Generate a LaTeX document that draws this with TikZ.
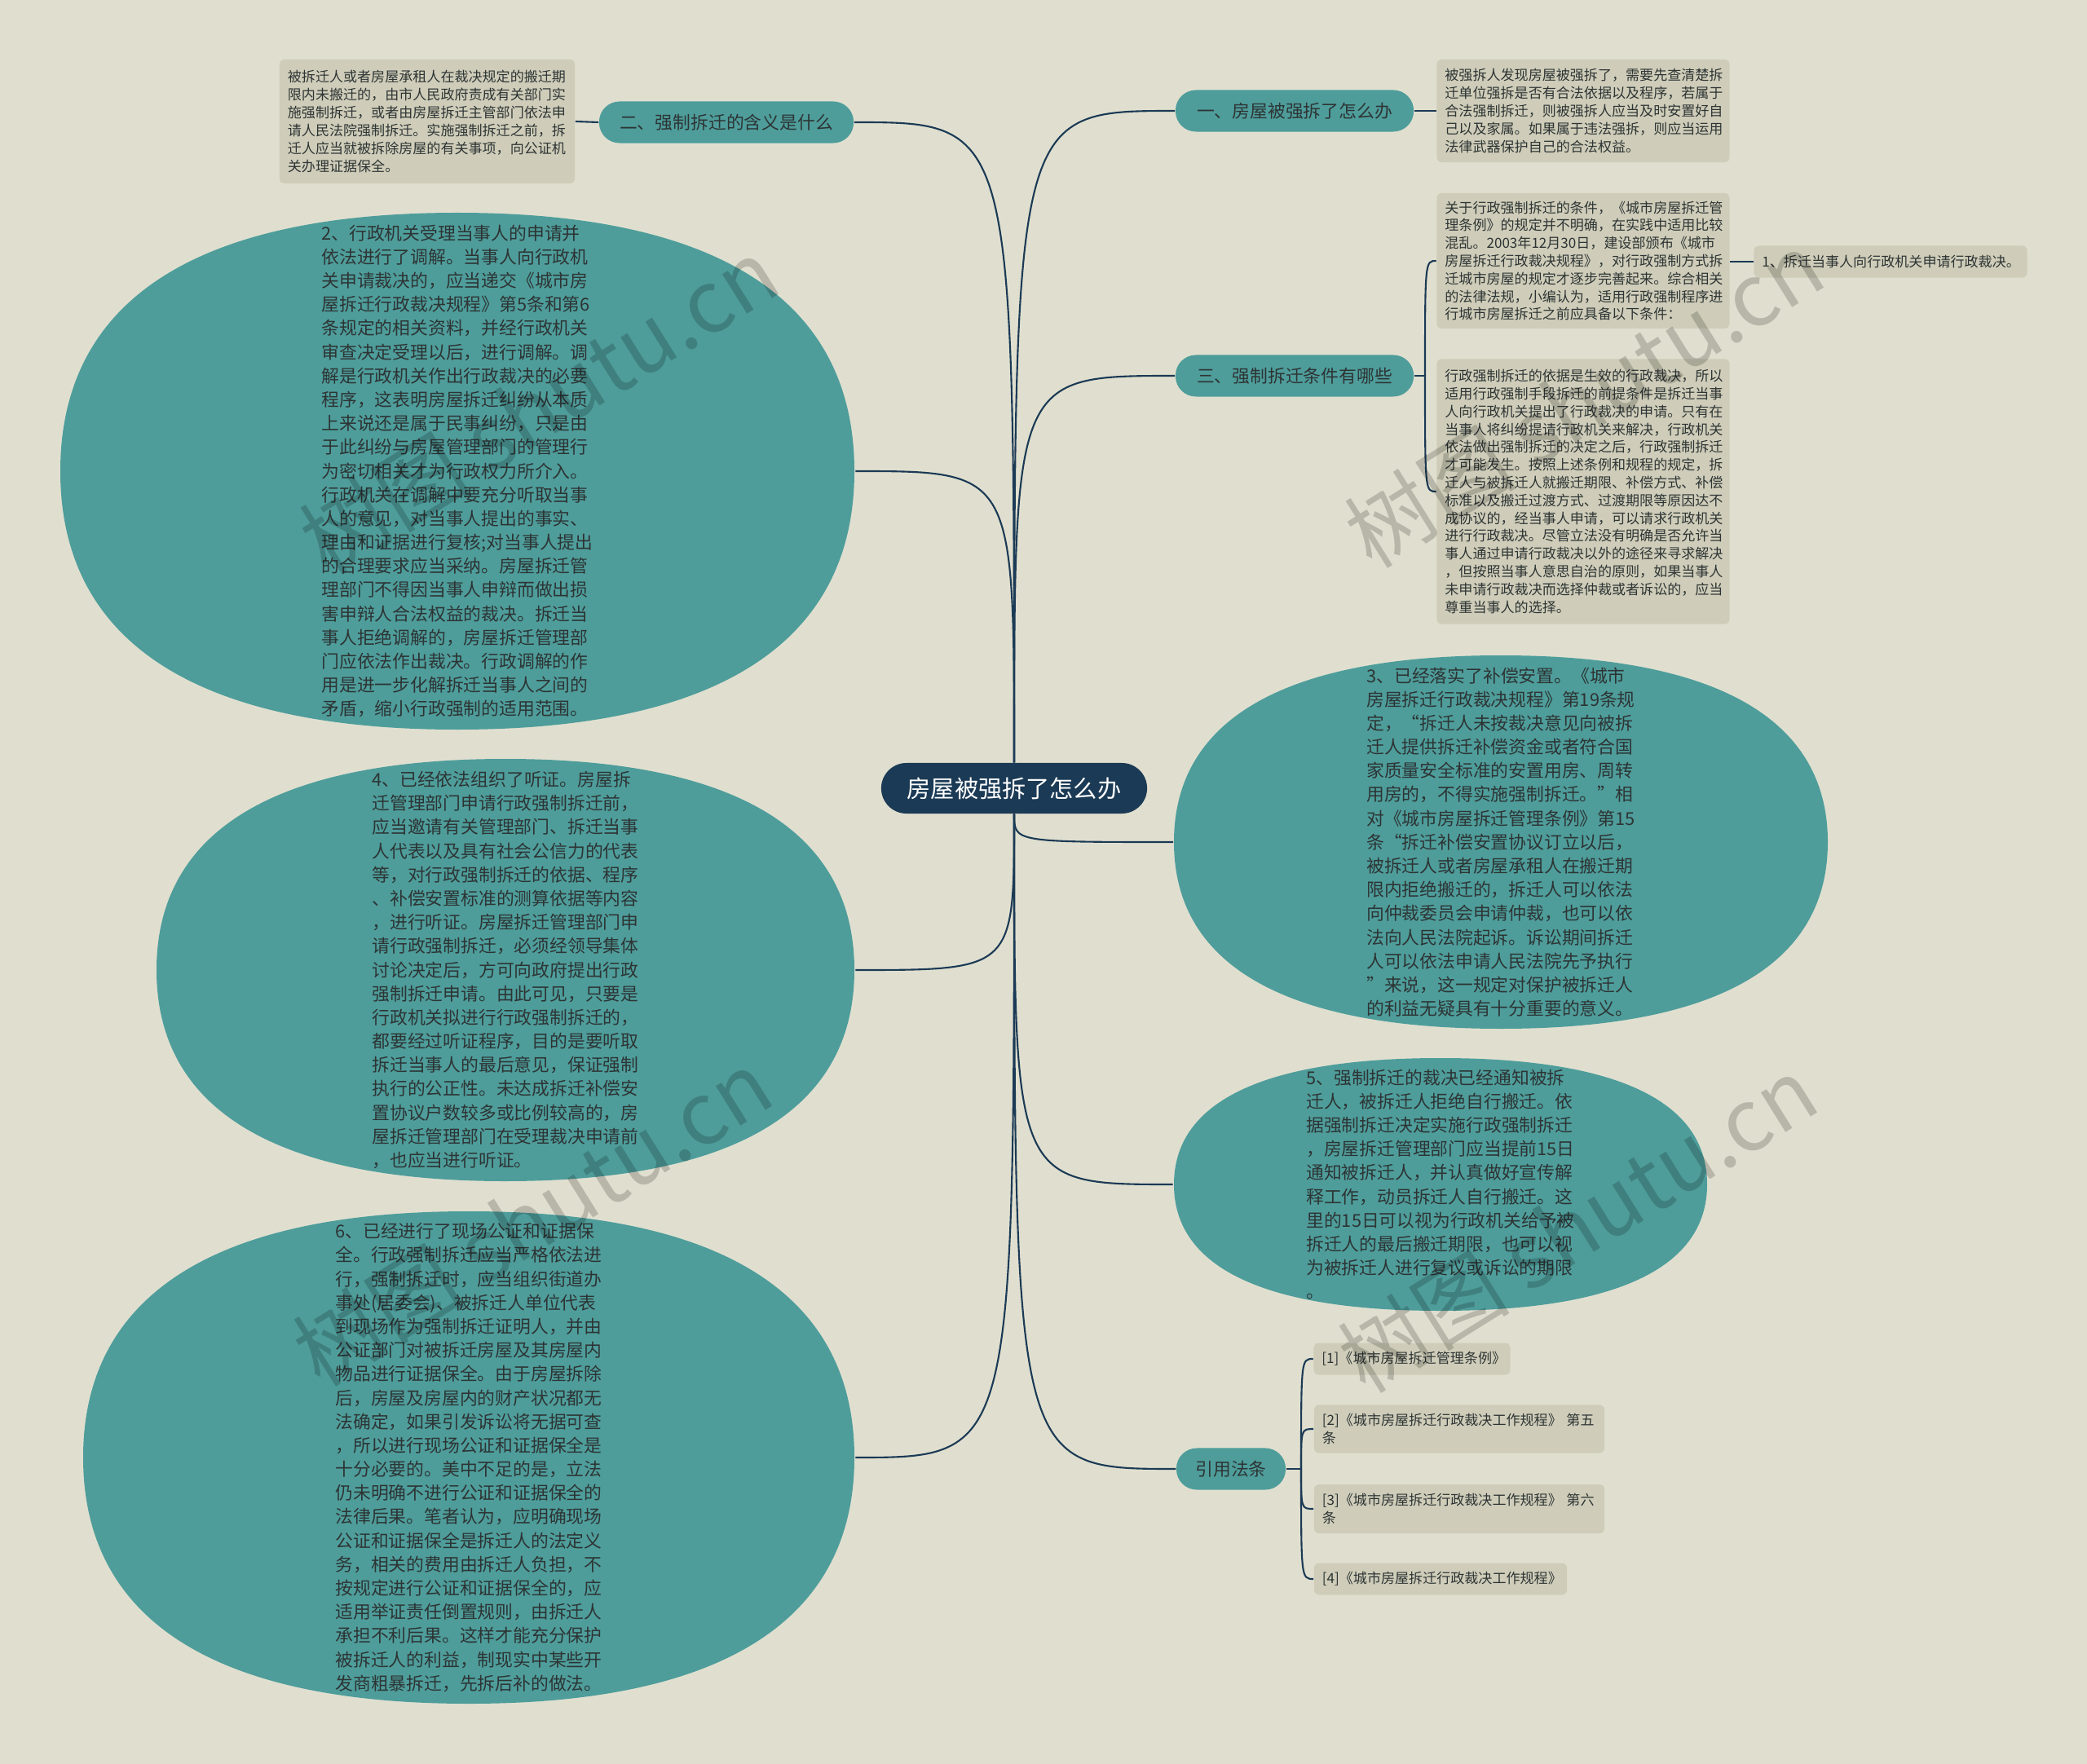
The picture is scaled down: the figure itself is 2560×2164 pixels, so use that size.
\documentclass[tikz,border=0pt]{standalone}
\usepackage{fontspec}
\setmainfont{Noto Sans CJK SC}
\usetikzlibrary{shapes.geometric}

\definecolor{bgpaper}{RGB}{224,223,207}
\definecolor{tealfill}{RGB}{78,157,155}
\definecolor{notefill}{RGB}{207,205,185}
\definecolor{navy}{RGB}{27,58,85}
\definecolor{inktext}{RGB}{45,52,52}

\tikzset{
  rootnode/.style={fill=navy,text=white,rounded corners=0.31cm,minimum width=3.26cm,minimum height=0.62cm,font=\fontsize{8.3}{10}\selectfont},
  branchnode/.style={fill=tealfill,text=inktext,rounded corners=0.25cm,minimum height=0.51cm,font=\fontsize{6.2}{8}\selectfont},
  blob/.style={ellipse,inner sep=0pt},
  blobtext/.style={align=left,text=inktext,inner sep=0pt,font=\fontsize{6.2}{8.3}\selectfont},
  notebox/.style={fill=notefill,text=inktext,rounded corners=0.06cm,align=left,inner xsep=0.1cm,inner ysep=0pt,font=\fontsize{4.85}{6.2}\selectfont},
  linkline/.style={draw=navy,line width=0.6pt},
  wmark/.style={text=black,opacity=0.18,rotate=32,font=\fontsize{30}{30}\selectfont}
}

% squarish oval round a named node: node, half width, half height
\newcommand{\blobfill}[3]{\fill[tealfill,shift={(#1.center)}] (#2,0) .. controls (#2,{0.66*#3}) and ({0.66*#2},#3) .. (0,#3) .. controls ({-0.66*#2},#3) and (-#2,{0.66*#3}) .. (-#2,0) .. controls (-#2,{-0.66*#3}) and ({-0.66*#2},-#3) .. (0,-#3) .. controls ({0.66*#2},-#3) and (#2,{-0.66*#3}) .. cycle;}

\begin{document}
\begin{tikzpicture}[x=0.01cm,y=-0.01cm]
\useasboundingbox (0,0) rectangle (2560,2164);
\fill[bgpaper] (0,0) rectangle (2560,2164);

\node[rootnode] (root) at (1244,967) {房屋被强拆了怎么办};

\node[branchnode,minimum width=2.92cm] (b1) at (1588,136) {一、房屋被强拆了怎么办};
\node[branchnode,minimum width=3.12cm] (b2) at (891,150) {二、强制拆迁的含义是什么};
\node[branchnode,minimum width=2.92cm] (b3) at (1588,461) {三、强制拆迁条件有哪些};
\node[branchnode,minimum width=1.34cm] (b4) at (1510,1802) {引用法条};

\node[notebox,text width=3.39cm,minimum height=1.26cm] (n1) at (1942,136) {被强拆人发现房屋被强拆了，需要先查清楚拆\\迁单位强拆是否有合法依据以及程序，若属于\\合法强制拆迁，则被强拆人应当及时安置好自\\己以及家属。如果属于违法强拆，则应当运用\\法律武器保护自己的合法权益。};
\node[notebox,text width=3.42cm,minimum height=1.52cm] (n2) at (524,149) {被拆迁人或者房屋承租人在裁决规定的搬迁期\\限内未搬迁的，由市人民政府责成有关部门实\\施强制拆迁，或者由房屋拆迁主管部门依法申\\请人民法院强制拆迁。实施强制拆迁之前，拆\\迁人应当就被拆除房屋的有关事项，向公证机\\关办理证据保全。};
\node[notebox,text width=3.39cm,minimum height=1.66cm] (n3a) at (1942,320) {关于行政强制拆迁的条件，《城市房屋拆迁管\\理条例》的规定并不明确，在实践中适用比较\\混乱。2003年12月30日，建设部颁布《城市\\房屋拆迁行政裁决规程》，对行政强制方式拆\\迁城市房屋的规定才逐步完善起来。综合相关\\的法律法规，小编认为，适用行政强制程序进\\行城市房屋拆迁之前应具备以下条件：};
\node[notebox,text width=3.39cm,minimum height=3.25cm] (n3b) at (1942,603) {行政强制拆迁的依据是生效的行政裁决，所以\\适用行政强制手段拆迁的前提条件是拆迁当事\\人向行政机关提出了行政裁决的申请。只有在\\当事人将纠纷提请行政机关来解决，行政机关\\依法做出强制拆迁的决定之后，行政强制拆迁\\才可能发生。按照上述条例和规程的规定，拆\\迁人与被拆迁人就搬迁期限、补偿方式、补偿\\标准以及搬迁过渡方式、过渡期限等原因达不\\成协议的，经当事人申请，可以请求行政机关\\进行行政裁决。尽管立法没有明确是否允许当\\事人通过申请行政裁决以外的途径来寻求解决\\，但按照当事人意思自治的原则，如果当事人\\未申请行政裁决而选择仲裁或者诉讼的，应当\\尊重当事人的选择。};
\node[notebox,text width=3.15cm,minimum height=0.39cm] (n3c) at (2319,321) {1、拆迁当事人向行政机关申请行政裁决。};

\node[notebox,text width=2.21cm,minimum height=0.39cm] (c1) at (1732,1667) {[1]《城市房屋拆迁管理条例》};
\node[notebox,text width=3.36cm,minimum height=0.59cm] (c2) at (1790,1753) {[2]《城市房屋拆迁行政裁决工作规程》 第五\\条};
\node[notebox,text width=3.36cm,minimum height=0.60cm] (c3) at (1790,1851) {[3]《城市房屋拆迁行政裁决工作规程》 第六\\条};
\node[notebox,text width=2.90cm,minimum height=0.39cm] (c4) at (1767,1937) {[4]《城市房屋拆迁行政裁决工作规程》};

\node[blob,minimum width=9.75cm,minimum height=6.34cm] (e2) at (561,578) {};
\blobfill{e2}{487}{317}
\node[blobtext] at (e2.center) {2、行政机关受理当事人的申请并\\依法进行了调解。当事人向行政机\\关申请裁决的，应当递交《城市房\\屋拆迁行政裁决规程》第5条和第6\\条规定的相关资料，并经行政机关\\审查决定受理以后，进行调解。调\\解是行政机关作出行政裁决的必要\\程序，这表明房屋拆迁纠纷从本质\\上来说还是属于民事纠纷，只是由\\于此纠纷与房屋管理部门的管理行\\为密切相关才为行政权力所介入。\\行政机关在调解中要充分听取当事\\人的意见，对当事人提出的事实、\\理由和证据进行复核;对当事人提出\\的合理要求应当采纳。房屋拆迁管\\理部门不得因当事人申辩而做出损\\害申辩人合法权益的裁决。拆迁当\\事人拒绝调解的，房屋拆迁管理部\\门应依法作出裁决。行政调解的作\\用是进一步化解拆迁当事人之间的\\矛盾，缩小行政强制的适用范围。};

\node[blob,minimum width=8.57cm,minimum height=5.19cm] (e4) at (620,1190) {};
\blobfill{e4}{428}{259}
\node[blobtext] at (e4.center) {4、已经依法组织了听证。房屋拆\\迁管理部门申请行政强制拆迁前，\\应当邀请有关管理部门、拆迁当事\\人代表以及具有社会公信力的代表\\等，对行政强制拆迁的依据、程序\\、补偿安置标准的测算依据等内容\\，进行听证。房屋拆迁管理部门申\\请行政强制拆迁，必须经领导集体\\讨论决定后，方可向政府提出行政\\强制拆迁申请。由此可见，只要是\\行政机关拟进行行政强制拆迁的，\\都要经过听证程序，目的是要听取\\拆迁当事人的最后意见，保证强制\\执行的公正性。未达成拆迁补偿安\\置协议户数较多或比例较高的，房\\屋拆迁管理部门在受理裁决申请前\\，也应当进行听证。};

\node[blob,minimum width=9.47cm,minimum height=6.04cm] (e6) at (575,1788) {};
\blobfill{e6}{473}{302}
\node[blobtext] at (e6.center) {6、已经进行了现场公证和证据保\\全。行政强制拆迁应当严格依法进\\行，强制拆迁时，应当组织街道办\\事处(居委会)、被拆迁人单位代表\\到现场作为强制拆迁证明人，并由\\公证部门对被拆迁房屋及其房屋内\\物品进行证据保全。由于房屋拆除\\后，房屋及房屋内的财产状况都无\\法确定，如果引发诉讼将无据可查\\，所以进行现场公证和证据保全是\\十分必要的。美中不足的是，立法\\仍未明确不进行公证和证据保全的\\法律后果。笔者认为，应明确现场\\公证和证据保全是拆迁人的法定义\\务，相关的费用由拆迁人负担，不\\按规定进行公证和证据保全的，应\\适用举证责任倒置规则，由拆迁人\\承担不利后果。这样才能充分保护\\被拆迁人的利益，制现实中某些开\\发商粗暴拆迁，先拆后补的做法。};

\node[blob,minimum width=8.02cm,minimum height=4.59cm] (e3) at (1841,1033) {};
\blobfill{e3}{401}{229}
\node[blobtext] at (e3.center) {3、已经落实了补偿安置。《城市\\房屋拆迁行政裁决规程》第19条规\\定，“拆迁人未按裁决意见向被拆\\迁人提供拆迁补偿资金或者符合国\\家质量安全标准的安置用房、周转\\用房的，不得实施强制拆迁。”相\\对《城市房屋拆迁管理条例》第15\\条“拆迁补偿安置协议订立以后，\\被拆迁人或者房屋承租人在搬迁期\\限内拒绝搬迁的，拆迁人可以依法\\向仲裁委员会申请仲裁，也可以依\\法向人民法院起诉。诉讼期间拆迁\\人可以依法申请人民法院先予执行\\”来说，这一规定对保护被拆迁人\\的利益无疑具有十分重要的意义。};

\node[blob,minimum width=6.55cm,minimum height=3.10cm] (e5) at (1767,1453) {};
\blobfill{e5}{327}{155}
\node[blobtext] at (e5.center) {5、强制拆迁的裁决已经通知被拆\\迁人，被拆迁人拒绝自行搬迁。依\\据强制拆迁决定实施行政强制拆迁\\，房屋拆迁管理部门应当提前15日\\通知被拆迁人，并认真做好宣传解\\释工作，动员拆迁人自行搬迁。这\\里的15日可以视为行政机关给予被\\拆迁人的最后搬迁期限，也可以视\\为被拆迁人进行复议或诉讼的期限\\。};

\draw[linkline] (root.north) .. controls (root.north |- b1.west) .. (b1.west);
\draw[linkline] (root.north) .. controls (root.north |- b2.east) .. (b2.east);
\draw[linkline] (root.north) .. controls (root.north |- b3.west) .. (b3.west);
\draw[linkline] (root.north) .. controls (root.north |- e2.east) .. (e2.east);
\draw[linkline] (root.south) .. controls (root.south |- e3.west) .. (e3.west);
\draw[linkline] (root.south) .. controls (root.south |- e4.east) .. (e4.east);
\draw[linkline] (root.south) .. controls (root.south |- e5.west) .. (e5.west);
\draw[linkline] (root.south) .. controls (root.south |- e6.east) .. (e6.east);
\draw[linkline] (root.south) .. controls (root.south |- b4.west) .. (b4.west);

\draw[linkline] (b1.east) -- (n1.west);
\draw[linkline] (b2.west) -- (n2.east);
\coordinate (hub3) at (1748,461);
\draw[linkline] (b3.east) -- (hub3);
\draw[linkline] (hub3) .. controls (hub3 |- n3a.west) .. (n3a.west);
\draw[linkline] (hub3) .. controls (hub3 |- n3b.west) .. (n3b.west);
\draw[linkline] (n3a.east |- n3c.west) -- (n3c.west);

\coordinate (hub4) at (1596,1802);
\draw[linkline] (b4.east) -- (hub4);
\foreach \c in {c1,c2,c3,c4}
  \draw[linkline] (hub4) .. controls (hub4 |- \c.west) .. (\c.west);

\node[wmark] (w1) at (661,498) {树图 shutu.cn};
\node[wmark] (w2) at (1943,490) {树图 shutu.cn};
\node[wmark] (w3) at (653,1494) {树图 shutu.cn};
\node[wmark] (w4) at (1935,1502) {树图 shutu.cn};
\end{tikzpicture}
\end{document}
